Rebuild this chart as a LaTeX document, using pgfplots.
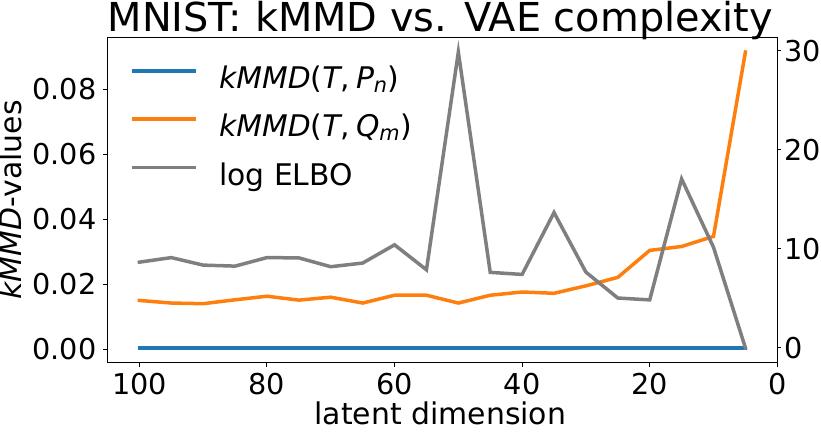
\documentclass[border=0pt]{standalone}
\usepackage{pgfplots}
\usepackage{pgfplotstable}
\pgfplotsset{compat=1.18}
\usepackage{fontspec}
\setmainfont{DejaVu Sans}
\definecolor{c0}{HTML}{1F77B4}
\definecolor{c1}{HTML}{FF7F0E}
\definecolor{c2}{HTML}{7F7F7F}

\pgfplotstableread{
x pn qm
100 0.0005 0.0151
95 0.0005 0.0143
90 0.0005 0.0141
85 0.0005 0.0153
80 0.0005 0.0164
75 0.0005 0.0152
70 0.0005 0.0161
65 0.0005 0.0143
60 0.0005 0.0167
55 0.0005 0.0167
50 0.0005 0.0143
45 0.0005 0.0167
40 0.0005 0.0177
35 0.0005 0.0173
30 0.0005 0.0196
25 0.0005 0.0222
20 0.0005 0.0305
15 0.0005 0.0317
10 0.0005 0.0348
5 0.0005 0.0915
}\kmmd

\pgfplotstableread{
x elbo
100 8.65
95 9.11
90 8.35
85 8.25
80 9.11
75 9.08
70 8.19
65 8.56
60 10.40
55 7.88
50 29.85
45 7.62
40 7.41
35 13.66
30 7.64
25 5.03
20 4.84
15 17.05
10 10.15
5 0.0
}\elbo

\newcommand{\tickfont}{\fontsize{28.8}{34}\selectfont}
\newcommand{\labfont}{\fontsize{30}{36}\selectfont}

\pgfplotsset{
  base/.style={
    scale only axis,
    width=669.8bp, height=325.4bp,
    at={(107.5bp,69.3bp)}, anchor=south west,
    x dir=reverse, xmin=0, xmax=105,
    tick align=outside,
    major tick length=3.5bp,
    every tick/.style={black, line width=1bp},
    axis line style={line width=1bp},
    ticklabel style={font=\tickfont},
    /pgf/number format/assume math mode=true,
    line cap=rect,
  }
}

\begin{document}
\begin{tikzpicture}
\useasboundingbox (0,0) rectangle (821bp,432bp);
\begin{axis}[base,
  ymin=-0.00405, ymax=0.09605,
  xtick={0,20,40,60,80,100},
  ytick={0,0.02,0.04,0.06,0.08},
  scaled y ticks=false,
  yticklabel style={/pgf/number format/fixed, /pgf/number format/fixed zerofill, /pgf/number format/precision=2},
  xtick pos=left, ytick pos=left,
  xticklabel style={/tikz/inner sep=0pt, /tikz/anchor=north, /tikz/yshift=-7.1bp},
  yticklabel style={/tikz/inner sep=0pt, /tikz/anchor=east, /tikz/xshift=-7.3bp},
  xlabel={latent dimension},
  xlabel style={font=\labfont, at={(axis description cs:0.497,-0.1893)}, anchor=base, inner sep=0pt},
  ylabel={\textit{kMMD}-values},
  ylabel style={font=\labfont, at={(axis description cs:-0.1281,0.5)}, anchor=base, inner sep=0pt},
  title={MNIST: kMMD vs. VAE complexity},
  every axis title shift=0pt,
  title style={font=\fontsize{40}{46}\selectfont, at={(axis description cs:0.497,1.0172)}, anchor=base, inner sep=0pt},
]
\addplot[c0, line width=3.5bp] table[x=x, y=pn] {\kmmd};
\addplot[c1, line width=3.5bp] table[x=x, y=qm] {\kmmd};
\end{axis}
\begin{axis}[base,
  ymin=-1.5, ymax=31.35,
  axis x line=none,
  axis y line*=right,
  ytick={0,10,20,30},
  yticklabel style={/tikz/inner sep=0pt, /tikz/anchor=west, /tikz/xshift=3.5bp},
  legend style={draw=none, fill=none, at={(axis description cs:0.037,0.9109)}, anchor=north west,
    inner sep=0pt, row sep=18.3bp, font=\fontsize{29.9}{36}\selectfont,
    nodes={inner sep=0pt, text height=22bp, text depth=8bp},
    /tikz/every odd column/.append style={column sep=23bp}},
  legend cell align=left,
  legend image code/.code={\draw[#1, line cap=rect] (1.75bp,10.6bp) -- (61.95bp,10.6bp);},
]
\addlegendimage{c0, line width=3.5bp}
\addlegendentry{\textit{kMMD}(\textit{T},\hspace{0.2em}\textit{P}\textsubscript{\textit{n}})}
\addlegendimage{c1, line width=3.5bp}
\addlegendentry{\textit{kMMD}(\textit{T},\hspace{0.2em}\textit{Q}\textsubscript{\textit{m}})}
\addplot[c2, line width=3.5bp] table[x=x, y=elbo] {\elbo};
\addlegendentry{log ELBO}
\end{axis}
\end{tikzpicture}
\end{document}
